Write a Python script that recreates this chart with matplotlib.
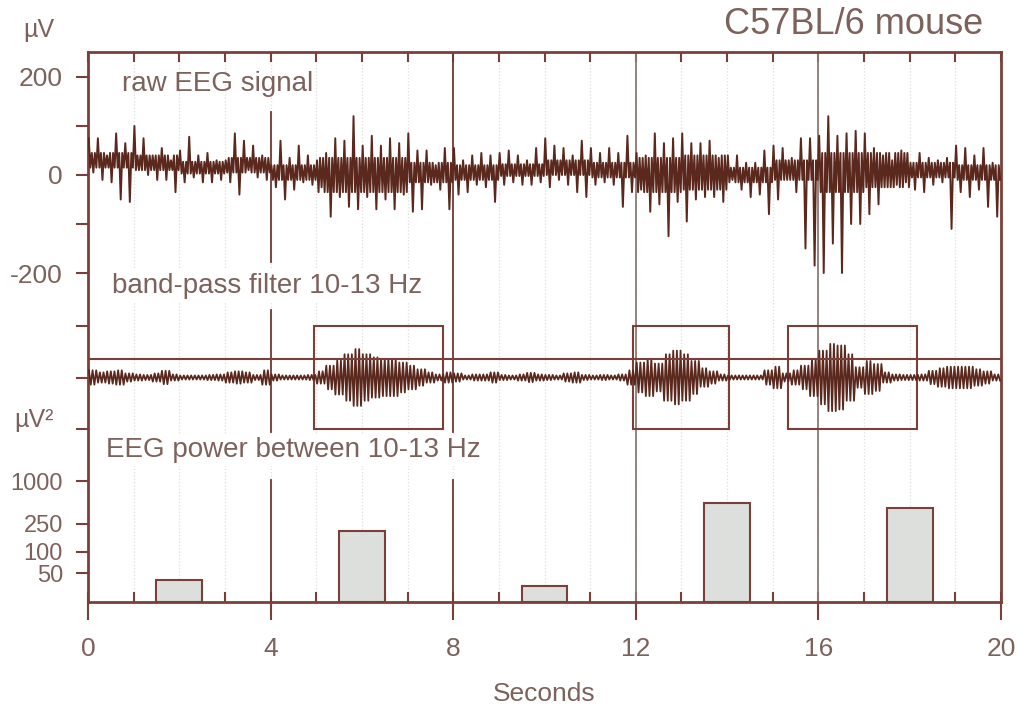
import numpy as np
import matplotlib
matplotlib.use("Agg")
import matplotlib.pyplot as plt
from matplotlib.patches import Rectangle

plt.rcParams['font.family'] = ['Liberation Sans', 'DejaVu Sans']

bin_start = np.arange(100) * 0.2
raw_hi = [75, 75, 40, 85, 65, 100, 75, 40, 55, 30, 50, 78, 40, 45, 30, 30, 85, 70, 60, 40, 20, 70, 35, 60, 40,
          30, 45, 75, 70, 120, 60, 80, 60, 75, 65, 85, 50, 50, 20, 55, 55, 30, 40, 45, 40, 45, 50, 40, 30, 55,
          75, 60, 55, 40, 70, 55, 45, 55, 45, 80, 45, 40, 85, 65, 75, 85, 65, 65, 70, 35, 40, 40, 25, 25, 50,
          60, 55, 35, 75, 75, 80, 120, 80, 85, 90, 85, 55, 40, 30, 50, 25, 45, 35, 30, 35, 60, 55, 40, 55, 25]
raw_lo = [5, -10, -15, -50, -55, 10, 0, -10, -10, -35, -15, -5, -15, -15, -10, -15, -40, 10, -5, -10, -25, -50, -30, -15, -20,
          -25, -85, -45, -65, -70, -45, -70, -50, -70, -40, -75, -70, -20, -30, -70, -40, -35, -20, -25, -55, -20, -15, -20, -20, -15,
          -25, -10, -20, -35, -45, -20, -15, -20, -65, -35, -30, -75, -60, -125, -55, -95, -50, -45, -45, -55, -10, -30, -45, -40, -80,
          -50, -10, -35, -150, -185, -200, -140, -200, -100, -100, -80, -60, -25, -20, -15, -30, -35, -20, -15, -110, -35, -45, -30, -65, -85]
# centre and half-thickness of the dense part of the trace, per second (uV)
raw_mid = [30, 25, 15, 20, 5, 0, 0, 5, 5, 10, 15, 10, 0, 5, 0, 10, 5, 10, 10, 5]
raw_core = [15, 15, 12, 15, 15, 35, 35, 20, 15, 12, 15, 15, 35, 35, 15, 20, 40, 35, 15, 15]

# band-pass 10-13 Hz envelope per 0.2 s bin (uV)
band_env = [14, 10, 12, 14, 8, 6, 5, 8, 13, 6, 3, 3, 4, 5, 6, 10, 12, 10, 5, 14,
            6, 3, 4, 3, 5, 12, 23, 33, 45, 55, 45, 39, 36, 36, 29, 23, 16, 10, 6, 10,
            8, 4, 6, 6, 10, 5, 3, 6, 9, 6, 5, 3, 8, 10, 5, 4, 5, 4, 6, 14,
            29, 36, 27, 45, 52, 45, 32, 18, 12, 6, 4, 3, 3, 4, 14, 21, 8, 14, 23, 36,
            52, 65, 62, 45, 20, 32, 26, 10, 6, 5, 5, 6, 13, 18, 21, 21, 21, 16, 12, 6]
threshold = 35
boxes = [(4.95, 7.78), (11.94, 14.04), (15.33, 18.16)]

# EEG power 10-13 Hz per 4 s window (uV^2)
power_t = [2, 6, 10, 14, 18]
power = [40, 200, 33, 490, 417]
power_base = 19.5

brown = '#7b3f3a'
sig = '#5a281c'
txt = '#7d625c'

W, H = 1021, 706
fig = plt.figure(figsize=(W / 100, H / 100), dpi=100)

def ax_at(top, bottom):
    return fig.add_axes([88 / W, (H - bottom) / H, 913 / W, (bottom - top) / H])

frame = ax_at(52, 602)
frame.set_xlim(0, 20)
frame.set_ylim(0, 1)
frame.set_yticks([])
frame.set_xticks(range(0, 21, 4))
frame.set_xticks(range(0, 21), minor=True)
frame.xaxis.remove_overlapping_locs = False
for s in frame.spines.values():
    s.set_color(brown)
    s.set_linewidth(2)
frame.tick_params(which='major', direction='out', length=13, width=1.5, color=brown,
                  labelsize=19, labelcolor=txt, pad=12)
frame.tick_params(which='minor', direction='in', length=7, width=1.5, color=brown, top=True)
frame.grid(which='minor', axis='x', color='#dedede', ls=':', lw=0.9)
frame.set_xlabel('Seconds', fontsize=19, color=txt, labelpad=15)

# vertical separators
for x0, y0, y1, c in [(4, 0.618, 0.891, '#6e3a35'), (4, 0.309, 0.531, '#6e3a35'), (4, 0, 0.222, '#6e3a35'),
                      (8, 0.309, 1, '#6e3a35'), (8, 0, 0.222, '#6e3a35'),
                      (12, 0, 1, '#8c7a76'), (16, 0, 1, '#8c7a76')]:
    frame.axvline(x0, y0, y1, color=c, lw=1.3)

def sub(top, bottom):
    a = ax_at(top, bottom)
    a.set_xlim(0, 20)
    a.patch.set_visible(False)
    for s in a.spines.values():
        s.set_visible(False)
    a.tick_params(axis='x', bottom=False, labelbottom=False)
    a.tick_params(axis='y', direction='out', length=9, width=1.5, color=brown,
                  labelcolor=txt, pad=9)
    return a

# raw EEG: spikes to the read max/min, with the dense core around the centre line
raw = sub(52, 298)
raw.set_ylim(-251, 251)
mid = np.repeat(raw_mid, 5)
core = np.repeat(raw_core, 5)
offs = np.arange(6) * (0.2 / 6) + 0.2 / 12
rt = np.column_stack([bin_start + d for d in offs]).ravel()
rv = np.column_stack([raw_hi, mid - core, mid + core, raw_lo, mid + core, mid - core]).ravel()
raw.plot(rt, rv, color=sig, lw=1.4)
raw.set_yticks([-200, -100, 0, 100, 200])
raw.set_yticklabels(['-200', '', '0', '', '200'], fontsize=19)

# band-pass: oscillation drawn inside the read envelope
band = sub(300, 455)
band.set_ylim(-150, 150)
env = np.repeat(band_env, 5).astype(float)
bt = np.arange(env.size) * 0.04 + 0.02
sign = np.where(np.arange(env.size) % 2 == 0, 1.0, -1.0)
band.plot(bt, sign * np.maximum(env, 4), color=sig, lw=1.3)
band.axhline(threshold, color=brown, lw=1.5)
for b0, b1 in boxes:
    band.add_patch(Rectangle((b0, -100), b1 - b0, 200, fill=False, ec=brown, lw=1.5))
band.set_yticks([-100, 0, 100])
band.set_yticklabels([])

# power bars
pw = sub(455, 602)
pw.set_yscale('log')
pw.set_ylim(power_base, 2340)
pw.bar(power_t, np.array(power) - power_base, bottom=power_base, width=1.0,
       color='#dcdfdb', edgecolor=brown, lw=1.5)
pw.set_yticks([50, 100, 250, 1000])
pw.set_yticklabels(['50', '100', '250', '1000'], fontsize=17)
pw.minorticks_off()

def ftext(x, y, s, **kw):
    kw.setdefault('color', txt)
    return fig.text(x / W, 1 - y / H, s, **kw)

white = dict(facecolor='white', edgecolor='none', pad=2)
ftext(983, 25, 'C57BL/6 mouse', fontsize=26, ha='right', va='center')
ftext(39, 30, 'µV', fontsize=18, ha='center', va='center')
ftext(122, 91, 'raw EEG signal', fontsize=20, va='baseline')
ftext(112, 293, 'band-pass filter 10-13 Hz', fontsize=20, va='baseline', bbox=white)
ftext(14, 427, 'µV²', fontsize=18, va='baseline')
ftext(106, 457, 'EEG power between 10-13 Hz', fontsize=20, va='baseline', bbox=white)

fig.savefig('out.png', dpi=100)
